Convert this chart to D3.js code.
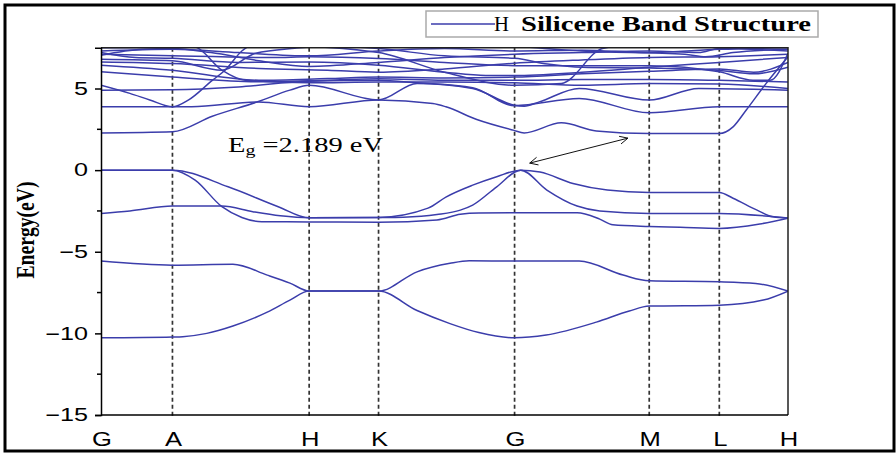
<!DOCTYPE html>
<html>
<head>
<meta charset="utf-8">
<script src="https://cdn.jsdelivr.net/npm/d3@7"></script>
<style>
  html, body { margin: 0; padding: 0; background: #fff; }
  svg { display: block; }
</style>
</head>
<body>
<svg id="chart" width="896" height="453"></svg>
<script>
// High-symmetry points along the k-path (normalised path coordinate)
const kLabels = ["G", "A", "H", "K", "G", "M", "L", "H"];
const kTicks  = [0, 0.104, 0.303, 0.404, 0.602, 0.798, 0.900, 1.0];
const yTicks  = [-15, -10, -5, 0, 5];
const yMinorTicks = [-12.5, -7.5, -2.5, 2.5];

// Band energies (eV) as [k, E] pairs along the path
const bandS1 = [[0,-10.27],[0.104,-10.22],[0.119,-10.2],[0.154,-10.0],[0.192,-9.55],[0.242,-8.7],[0.275,-7.96],[0.303,-7.41],[0.404,-7.41],[0.460,-8.6],[0.508,-9.4],[0.550,-9.95],[0.602,-10.27],[0.648,-10.1],[0.721,-9.31],[0.769,-8.63],[0.798,-8.33],[0.900,-8.27],[0.964,-7.96],[1.0,-7.41]];
const bandS2 = [[0,-5.57],[0.104,-5.82],[0.192,-5.76],[0.242,-6.43],[0.275,-6.92],[0.303,-7.41],[0.404,-7.41],[0.460,-6.23],[0.508,-5.71],[0.536,-5.55],[0.602,-5.57],[0.696,-5.57],[0.760,-6.43],[0.798,-6.78],[0.900,-6.84],[0.953,-6.94],[1.0,-7.41]];
const bandV1 = [[0,0],[0.104,0],[0.185,-1.02],[0.258,-2.24],[0.303,-2.92],[0.404,-2.9],[0.476,-2.33],[0.502,-1.65],[0.541,-0.92],[0.576,-0.4],[0.611,0],[0.639,-0.12],[0.687,-0.82],[0.737,-1.22],[0.798,-1.37],[0.900,-1.37],[0.920,-1.72],[0.955,-2.45],[0.978,-2.86],[1.0,-2.94]];
const bandV2 = [[0,0],[0.104,0],[0.137,-0.61],[0.176,-2.24],[0.205,-2.9],[0.234,-3.16],[0.303,-3.17],[0.404,-3.2],[0.489,-3.05],[0.523,-2.7],[0.550,-2.62],[0.602,-2.61],[0.693,-2.61],[0.726,-3.0],[0.745,-3.35],[0.798,-3.45],[0.843,-3.5],[0.900,-3.57],[0.959,-3.3],[1.0,-2.94]];
const bandV3 = [[0,-2.65],[0.042,-2.5],[0.104,-2.2],[0.176,-2.2],[0.221,-2.55],[0.261,-2.8],[0.303,-2.92],[0.404,-2.9],[0.440,-2.88],[0.489,-2.72],[0.523,-2.45],[0.541,-2.14],[0.576,-1.02],[0.611,0],[0.649,-1.22],[0.693,-2.2],[0.726,-2.5],[0.798,-2.65],[0.900,-2.65],[1.0,-2.94]];
const bandC1 = [[0,2.28],[0.104,2.35],[0.162,3.3],[0.229,4.2],[0.275,4.9],[0.303,5.2],[0.404,4.3],[0.460,5.31],[0.541,5.0],[0.602,3.98],[0.616,3.92],[0.638,4.18],[0.696,5.0],[0.798,4.29],[0.870,5.0],[1.0,4.9]];
const bandC2 = [[0,3.88],[0.104,3.88],[0.132,3.88],[0.229,4.18],[0.303,3.88],[0.404,4.3],[0.483,4.08],[0.502,3.88],[0.547,3.1],[0.600,2.45],[0.616,2.28],[0.670,2.9],[0.721,2.4],[0.798,2.24],[0.900,2.24],[0.920,2.65],[0.939,3.67],[0.968,5.3],[1.0,6.94]];
const bandC3 = [[0,4.9],[0.104,4.93],[0.200,5.1],[0.303,5.45],[0.404,5.5],[0.460,5.35],[0.541,5.05],[0.602,3.95],[0.696,4.39],[0.798,3.51],[0.900,3.88],[1.0,3.88]];
const bandC4 = [[0,5.2],[0.042,4.7],[0.071,4.3],[0.104,3.88],[0.127,4.29],[0.162,5.5],[0.180,6.1],[0.205,7.3],[0.230,7.9]];
const bandU1 = [[0,7.3],[0.104,7.4],[0.200,7.2],[0.303,7.0],[0.404,7.3],[0.500,7.45],[0.602,7.3],[0.700,7.35],[0.798,7.2],[0.900,7.4],[1.0,7.5]];
const bandU2 = [[0,7.04],[0.060,7.4],[0.104,7.45],[0.160,7.2],[0.230,6.7],[0.303,6.35],[0.404,6.6],[0.500,6.9],[0.602,7.1],[0.700,7.2],[0.798,7.3],[0.870,7.2],[0.900,7.45],[1.0,7.3]];
const bandU3 = [[0,6.63],[0.104,6.53],[0.230,6.23],[0.330,6.12],[0.404,6.0],[0.500,6.2],[0.602,6.55],[0.700,6.75],[0.798,6.9],[0.900,6.95],[1.0,7.1]];
const bandU4 = [[0,6.43],[0.104,6.12],[0.230,5.51],[0.330,5.61],[0.404,5.7],[0.500,5.65],[0.602,5.7],[0.700,5.9],[0.798,6.05],[0.900,6.2],[0.950,6.0],[1.0,6.6]];
const bandU5 = [[0,6.02],[0.104,5.71],[0.230,5.41],[0.330,5.51],[0.404,5.6],[0.500,5.5],[0.602,5.5],[0.700,5.55],[0.798,5.55],[0.900,5.5],[1.0,5.4]];
const bandU6 = [[0,7.6],[0.104,7.7],[0.137,7.55],[0.176,6.12],[0.210,5.51],[0.303,5.35],[0.404,5.4],[0.500,5.4],[0.602,5.35],[0.700,5.2],[0.798,5.3],[0.900,5.27],[1.0,5.0]];
const bandU7 = [[0,6.8],[0.104,6.7],[0.176,6.12],[0.225,7.16],[0.282,7.47],[0.330,7.6],[0.404,7.45],[0.500,7.0],[0.602,6.85],[0.650,6.5],[0.700,6.3],[0.798,6.25],[0.900,6.1],[0.950,5.9],[1.0,6.3]];
const bandU8 = [[0,7.1],[0.104,7.0],[0.250,6.9],[0.303,6.94],[0.404,6.84],[0.500,6.6],[0.602,6.4],[0.700,6.4],[0.798,6.4],[0.900,6.02],[0.949,5.51],[0.974,5.51],[1.0,7.16]];
const bandU9 = [[0,7.5],[0.300,7.55],[0.404,7.2],[0.500,6.0],[0.602,5.2],[0.670,5.31],[0.730,7.45],[0.780,7.7]];
const bandU10 = [[0,7.2],[0.050,6.9],[0.104,6.85],[0.200,6.6],[0.303,6.63],[0.404,6.43],[0.500,6.0],[0.560,5.8],[0.602,5.8],[0.700,6.0],[0.798,6.3],[0.900,6.6],[1.0,6.9]];
const bandU11 = [[0.600,7.6],[0.700,7.3],[0.850,7.1],[0.880,6.95],[0.920,7.2],[1.0,7.4]];

const bands = [bandS1, bandS2, bandV1, bandV2, bandV3, bandC1, bandC2, bandC3, bandC4,
               bandU1, bandU2, bandU3, bandU4, bandU5, bandU6, bandU7, bandU8, bandU9,
               bandU10, bandU11];

// Band-gap annotation: arrow end points [k, E]
const gapLabel = "2.189 eV";
const gapArrow = [[0.624, 0.43], [0.767, 1.96]];

const svg = d3.select("#chart");
const plot = { left: 101, right: 788, top: 47.7, bottom: 415 };
const bandColor = "#3b3dab";
const sans = "Arial, 'Liberation Sans', sans-serif";
const serif = "'Liberation Serif', 'Times New Roman', serif";

const x = d3.scaleLinear().domain([0, 1]).range([plot.left, plot.right]);
const y = d3.scaleLinear().domain([-15, 7.5]).range([plot.bottom, plot.top]);

// outer frame
svg.append("rect").attr("x", 5).attr("y", 5).attr("width", 889).attr("height", 446)
  .attr("fill", "#fff").attr("stroke", "#000").attr("stroke-width", 3);

svg.append("defs").append("clipPath").attr("id", "plotClip")
  .append("rect").attr("x", plot.left).attr("y", plot.top)
  .attr("width", plot.right - plot.left).attr("height", plot.bottom - plot.top);

// high-symmetry dashed lines
svg.append("g").selectAll("line").data(kTicks.slice(1, -1)).join("line")
  .attr("x1", d => x(d)).attr("x2", d => x(d))
  .attr("y1", plot.top).attr("y2", plot.bottom + 3)
  .attr("stroke", "#333").attr("stroke-width", 1.7).attr("stroke-dasharray", "4,3");

// bands
const line = d3.line().x(d => x(d[0])).y(d => y(d[1])).curve(d3.curveMonotoneX);
svg.append("g").attr("clip-path", "url(#plotClip)")
  .selectAll("path").data(bands).join("path")
  .attr("d", line).attr("fill", "none")
  .attr("stroke", bandColor).attr("stroke-width", 1.5);

// frame of plot area (top & right)
svg.append("path")
  .attr("d", `M${plot.left},${plot.top}H${plot.right}V${plot.bottom}`)
  .attr("fill", "none").attr("stroke", "#222").attr("stroke-width", 1.5);

// y axis
const yAxis = d3.axisLeft(y).tickValues(yTicks).tickSize(6).tickPadding(5)
  .tickFormat(d => d < 0 ? "\u2212" + Math.abs(d) : d);
const gy = svg.append("g").attr("transform", `translate(${plot.left},0)`).call(yAxis);
gy.select(".domain").attr("stroke", "#000").attr("stroke-width", 1.5);
gy.selectAll(".tick line").attr("stroke", "#000").attr("stroke-width", 1.5);
gy.selectAll(".tick text").attr("font-family", sans)
  .attr("font-size", 18).attr("fill", "#000")
  .attr("x", -9.3).attr("transform", "scale(1.4,1)");
svg.append("g").selectAll("line").data(yMinorTicks).join("line")
  .attr("x1", plot.left - 4).attr("x2", plot.left)
  .attr("y1", d => y(d)).attr("y2", d => y(d))
  .attr("stroke", "#000").attr("stroke-width", 1.5);

// x axis
svg.append("line").attr("x1", plot.left).attr("x2", plot.right)
  .attr("y1", plot.bottom).attr("y2", plot.bottom)
  .attr("stroke", "#000").attr("stroke-width", 1.5);
svg.append("g").selectAll("text").data(kTicks).join("text")
  .attr("transform", d => `translate(${x(d) + 1},446) scale(1.28,1)`)
  .attr("text-anchor", "middle")
  .attr("font-family", sans).attr("font-size", 20)
  .text((d, i) => kLabels[i]);

// y title
svg.append("text")
  .attr("transform", "translate(34,230) rotate(-90)")
  .attr("text-anchor", "middle")
  .attr("font-family", serif)
  .attr("font-weight", "bold").attr("font-size", 25)
  .attr("textLength", 97).attr("lengthAdjust", "spacingAndGlyphs")
  .text("Energy(eV)");

// band-gap label
const gl = svg.append("text").attr("x", 228).attr("y", 152)
  .attr("font-family", serif).attr("font-size", 20)
  .attr("textLength", 155).attr("lengthAdjust", "spacingAndGlyphs");
gl.append("tspan").text("E");
gl.append("tspan").attr("font-size", 14).attr("dy", 3).text("g");
gl.append("tspan").attr("dy", -3).text(" =" + gapLabel);

// double-headed arrow
const [p0, p1] = gapArrow.map(d => [x(d[0]), y(d[1])]);
const ang = Math.atan2(p1[1] - p0[1], p1[0] - p0[0]);
function head(p, a) {
  const L = 9, s = 0.45;
  return `M${p[0] + L * Math.cos(a + s)},${p[1] + L * Math.sin(a + s)}L${p[0]},${p[1]}L${p[0] + L * Math.cos(a - s)},${p[1] + L * Math.sin(a - s)}`;
}
svg.append("path")
  .attr("d", `M${p0[0]},${p0[1]}L${p1[0]},${p1[1]}` + head(p0, ang) + head(p1, ang + Math.PI))
  .attr("fill", "none").attr("stroke", "#111").attr("stroke-width", 1);

// legend
const lg = svg.append("g");
lg.append("rect").attr("x", 426).attr("y", 11).attr("width", 392).attr("height", 26)
  .attr("fill", "#fff").attr("stroke", "#aaa").attr("stroke-width", 1.5);
lg.append("line").attr("x1", 431).attr("x2", 495).attr("y1", 24).attr("y2", 24)
  .attr("stroke", bandColor).attr("stroke-width", 1.5);
lg.append("text").attr("x", 494).attr("y", 31)
  .attr("font-family", serif).attr("font-size", 20)
  .attr("textLength", 15).attr("lengthAdjust", "spacingAndGlyphs")
  .text("H");
lg.append("text").attr("x", 521).attr("y", 31)
  .attr("font-family", serif).attr("font-size", 20).attr("font-weight", "bold")
  .attr("textLength", 290).attr("lengthAdjust", "spacingAndGlyphs")
  .text("Silicene Band Structure");
</script>
</body>
</html>
